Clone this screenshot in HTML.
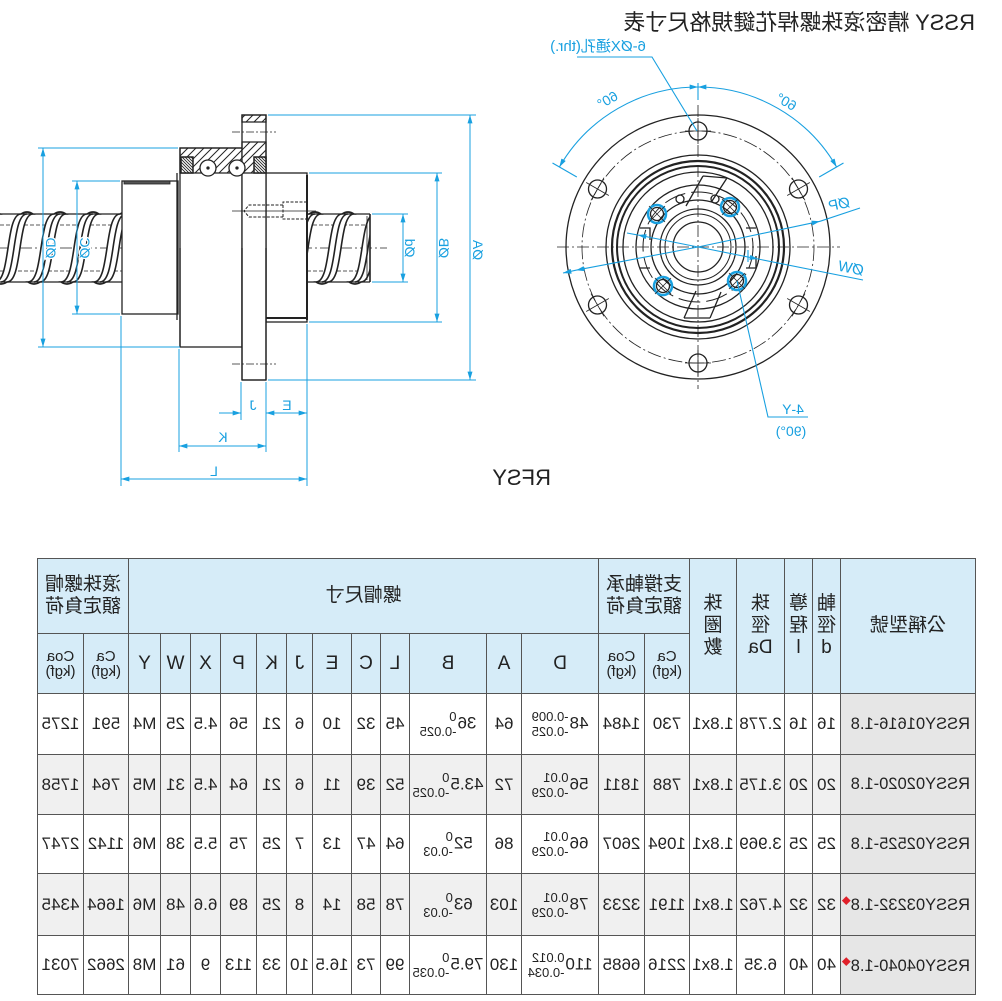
<!DOCTYPE html>
<html><head><meta charset="utf-8">
<style>
html,body{margin:0;padding:0;background:#fff;}
body{width:1002px;height:1001px;position:relative;overflow:hidden;font-family:"Liberation Sans","Noto Sans CJK TC",sans-serif;}
svg{position:absolute;left:0;top:0;}
table{position:absolute;left:37px;top:558px;width:938px;border-collapse:collapse;table-layout:fixed;color:#222;font-family:"Liberation Sans","Noto Sans CJK TC",sans-serif;}
td{border:1.5px solid #555;padding:0;text-align:center;vertical-align:middle;font-size:17px;overflow:hidden;white-space:nowrap;}
.h{background:#d6ecf8;}
.h .f{font-size:19px;line-height:22px;}
.h .u{font-size:15px;line-height:15px;}
.f{transform:scaleX(-1);}
.g td{background:#f0f0f0;}
td.m{background:#e6e6e6 !important;}
td.m .f{text-align:left;padding-left:5px;font-size:16.5px;}
.tl{display:inline-block;vertical-align:middle;font-size:13px;line-height:15px;text-align:left;margin-left:1px;}
.tl span{display:block;}
.dm{color:#e0202a;font-size:9px;vertical-align:6px;}
</style></head><body>
<svg width="1002" height="550" viewBox="0 0 1002 550" xmlns="http://www.w3.org/2000/svg">
<defs>
<marker id="ar" viewBox="0 0 10 6" refX="10" refY="3" markerWidth="9" markerHeight="5" markerUnits="userSpaceOnUse" orient="auto-start-reverse"><path d="M0,0 L10,3 L0,6 z" fill="#18a0e0"/></marker>
<clipPath id="cl"><rect x="0" y="200" width="122" height="100"/></clipPath>
<clipPath id="cr"><rect x="307" y="200" width="63" height="100"/></clipPath>
<clipPath id="hc"><path d="M180,148 L242,148 L242,142 L266,142 L266,173 L180,173 Z M242,115 L266,115 L266,122 L242,122 Z"/></clipPath>
<clipPath id="sc"><path d="M181,157 h12 v16 h-12 Z M254,157 h12 v16 h-12 Z"/></clipPath>
</defs>

<text transform="translate(975,30) scale(-1,1)" font-size="22" fill="#222" font-family="Liberation Sans, Noto Sans CJK TC, sans-serif">RSSY 精密滾珠螺桿花鍵規格尺寸表</text>

<!-- ============ LEFT SIDE VIEW ============ -->
<g stroke="#222" stroke-width="1.3" fill="none">
  <line x1="0" y1="248" x2="387" y2="248" stroke-width="0.8" stroke-dasharray="12 3 2 3"/>
  <line x1="0" y1="225" x2="122" y2="225" stroke-width="0.8" stroke-dasharray="4 2"/>
  <line x1="0" y1="271" x2="122" y2="271" stroke-width="0.8" stroke-dasharray="4 2"/>
  <g clip-path="url(#cl)" fill="#fff" stroke-width="1.6">
    <path d="M-38,282 C-22,282 -28,214 -12,214 Q-6,210 0,214 C-16,214 -10,282 -26,282 Q-32,286 -38,282 Z"/>
    <path d="M-32,282 C-16,282 -22,214 -6,214"/>
    <path d="M-5,282 C11,282 5,214 21,214 Q27,210 33,214 C17,214 23,282 7,282 Q1,286 -5,282 Z"/>
    <path d="M1,282 C17,282 11,214 27,214"/>
    <path d="M28,282 C44,282 38,214 54,214 Q60,210 66,214 C50,214 56,282 40,282 Q34,286 28,282 Z"/>
    <path d="M34,282 C50,282 44,214 60,214"/>
    <path d="M61,282 C77,282 71,214 87,214 Q93,210 99,214 C83,214 89,282 73,282 Q67,286 61,282 Z"/>
    <path d="M67,282 C83,282 77,214 93,214"/>
    <path d="M94,282 C110,282 104,214 120,214 Q126,210 132,214 C116,214 122,282 106,282 Q100,286 94,282 Z"/>
    <path d="M100,282 C116,282 110,214 126,214"/>
  </g>
  <line x1="0" y1="214" x2="122" y2="214"/>
  <line x1="0" y1="282" x2="122" y2="282"/>
  <line x1="307" y1="225" x2="370" y2="225" stroke-width="0.8" stroke-dasharray="4 2"/>
  <line x1="307" y1="271" x2="370" y2="271" stroke-width="0.8" stroke-dasharray="4 2"/>
  <g clip-path="url(#cr)" fill="#fff" stroke-width="1.6">
    <path d="M283,282 C299,282 293,214 309,214 Q315,210 321,214 C305,214 311,282 295,282 Q289,286 283,282 Z"/>
    <path d="M289,282 C305,282 299,214 315,214"/>
    <path d="M316,282 C332,282 326,214 342,214 Q348,210 354,214 C338,214 344,282 328,282 Q322,286 316,282 Z"/>
    <path d="M322,282 C338,282 332,214 348,214"/>
    <path d="M349,282 C365,282 359,214 375,214 Q381,210 387,214 C371,214 377,282 361,282 Q355,286 349,282 Z"/>
    <path d="M355,282 C371,282 365,214 381,214"/>
  </g>
  <line x1="307" y1="214" x2="370" y2="214"/>
  <line x1="307" y1="282" x2="370" y2="282"/>
  <line x1="370" y1="214" x2="370" y2="282" stroke-width="1.6"/>
  <line x1="367" y1="216" x2="367" y2="280" stroke-width="0.8"/>

  <rect x="122" y="181" width="56" height="133" fill="#fff"/>
  <rect x="124" y="181" width="46" height="3" fill="#555" stroke-width="0.8"/>
  <line x1="177" y1="173" x2="177" y2="320"/>
  <rect x="180" y="148" width="62" height="199" fill="#fff"/>
  <rect x="266" y="173" width="41" height="149" fill="#fff"/>
  <line x1="266" y1="318" x2="307" y2="318" stroke-width="2"/>
  <line x1="307" y1="175" x2="307" y2="320" stroke-width="2"/>
  <rect x="242" y="115" width="24" height="265" fill="#fff"/>
  <!-- hatching (explicit lines) -->
  <g clip-path="url(#hc)" stroke-width="1">
    <line x1="120" y1="176" x2="183" y2="113"/><line x1="128" y1="176" x2="191" y2="113"/>
    <line x1="136" y1="176" x2="199" y2="113"/><line x1="144" y1="176" x2="207" y2="113"/>
    <line x1="152" y1="176" x2="215" y2="113"/><line x1="160" y1="176" x2="223" y2="113"/>
    <line x1="168" y1="176" x2="231" y2="113"/><line x1="176" y1="176" x2="239" y2="113"/>
    <line x1="184" y1="176" x2="247" y2="113"/><line x1="192" y1="176" x2="255" y2="113"/>
    <line x1="200" y1="176" x2="263" y2="113"/><line x1="208" y1="176" x2="271" y2="113"/>
    <line x1="216" y1="176" x2="279" y2="113"/><line x1="224" y1="176" x2="287" y2="113"/>
    <line x1="232" y1="176" x2="295" y2="113"/><line x1="240" y1="176" x2="303" y2="113"/>
    <line x1="248" y1="176" x2="311" y2="113"/><line x1="256" y1="176" x2="319" y2="113"/>
    <line x1="264" y1="176" x2="327" y2="113"/>
  </g>
  <path d="M180,148 L242,148 L242,142 L266,142 L266,173 L180,173 Z"/>
  <path d="M242,115 L266,115 L266,122 L242,122 Z"/>
  <!-- seals -->
  <rect x="181" y="157" width="12" height="16" fill="#fff"/>
  <rect x="254" y="157" width="12" height="16" fill="#fff"/>
  <g clip-path="url(#sc)" stroke-width="0.9">
    <line x1="175" y1="150" x2="200" y2="175"/><line x1="178" y1="150" x2="203" y2="175"/>
    <line x1="172" y1="150" x2="197" y2="175"/><line x1="169" y1="150" x2="194" y2="175"/>
    <line x1="166" y1="150" x2="191" y2="175"/><line x1="181" y1="150" x2="206" y2="175"/>
    <line x1="184" y1="150" x2="209" y2="175"/><line x1="163" y1="150" x2="188" y2="175"/>
    <line x1="248" y1="150" x2="273" y2="175"/><line x1="251" y1="150" x2="276" y2="175"/>
    <line x1="245" y1="150" x2="270" y2="175"/><line x1="242" y1="150" x2="267" y2="175"/>
    <line x1="239" y1="150" x2="264" y2="175"/><line x1="254" y1="150" x2="279" y2="175"/>
    <line x1="257" y1="150" x2="282" y2="175"/><line x1="236" y1="150" x2="261" y2="175"/>
  </g>
  <rect x="181" y="157" width="12" height="16"/>
  <rect x="254" y="157" width="12" height="16"/>
  <circle cx="208" cy="168" r="8" fill="#fff"/>
  <circle cx="237" cy="168" r="8" fill="#fff"/>
  <circle cx="208" cy="168" r="1" fill="#333"/>
  <circle cx="237" cy="168" r="1" fill="#333"/>
  <line x1="242" y1="248" x2="242" y2="380"/>
  <line x1="266" y1="248" x2="266" y2="380"/>
  <line x1="242" y1="380" x2="266" y2="380"/>
  <line x1="180" y1="248" x2="180" y2="347"/>
  <line x1="232" y1="132" x2="276" y2="132" stroke-width="0.8" stroke-dasharray="8 2 2 2"/>
  <line x1="232" y1="364" x2="276" y2="364" stroke-width="0.8" stroke-dasharray="8 2 2 2"/>
  <path d="M307,202 L283,202 L283,219 L307,219" stroke-width="1" stroke-dasharray="3 1.5"/>
  <path d="M283,205 L249,205 L244,211 L249,217 L283,217" stroke-width="1" stroke-dasharray="3 1.5"/>
  <line x1="232" y1="211" x2="316" y2="211" stroke-width="0.7"/>
</g>

<g stroke="#18a0e0" stroke-width="1" fill="none">
  <line x1="268" y1="115" x2="476" y2="115"/>
  <line x1="268" y1="380" x2="476" y2="380"/>
  <line x1="470" y1="115" x2="470" y2="380" marker-start="url(#ar)" marker-end="url(#ar)"/>
  <line x1="309" y1="173" x2="442" y2="173"/>
  <line x1="309" y1="322" x2="442" y2="322"/>
  <line x1="437" y1="173" x2="437" y2="322" marker-start="url(#ar)" marker-end="url(#ar)"/>
  <line x1="372" y1="214" x2="408" y2="214"/>
  <line x1="372" y1="282" x2="408" y2="282"/>
  <line x1="403" y1="214" x2="403" y2="282" marker-start="url(#ar)" marker-end="url(#ar)"/>
  <line x1="38" y1="148" x2="178" y2="148"/>
  <line x1="38" y1="347" x2="180" y2="347"/>
  <line x1="43" y1="148" x2="43" y2="347" marker-start="url(#ar)" marker-end="url(#ar)"/>
  <line x1="72" y1="181" x2="120" y2="181"/>
  <line x1="72" y1="314" x2="120" y2="314"/>
  <line x1="77" y1="181" x2="77" y2="314" marker-start="url(#ar)" marker-end="url(#ar)"/>
  <line x1="121" y1="316" x2="121" y2="486"/>
  <line x1="179" y1="349" x2="179" y2="452"/>
  <line x1="241" y1="382" x2="241" y2="420"/>
  <line x1="266" y1="382" x2="266" y2="452"/>
  <line x1="307" y1="324" x2="307" y2="486"/>
  <line x1="266" y1="413" x2="307" y2="413" marker-start="url(#ar)" marker-end="url(#ar)"/>
  <line x1="219" y1="413" x2="241" y2="413" marker-end="url(#ar)"/>
  <line x1="179" y1="446" x2="266" y2="446" marker-start="url(#ar)" marker-end="url(#ar)"/>
  <line x1="121" y1="479" x2="307" y2="479" marker-start="url(#ar)" marker-end="url(#ar)"/>
</g>
<g fill="#18a0e0" font-size="14" font-family="Liberation Sans, Noto Sans CJK TC, sans-serif" text-anchor="middle">
  <text transform="translate(46,248) scale(-1,1) rotate(-90)" stroke="#fff" stroke-width="2.5" paint-order="stroke">ØD</text>
  <text transform="translate(80,248) scale(-1,1) rotate(-90)" stroke="#fff" stroke-width="2.5" paint-order="stroke">ØC</text>
  <text transform="translate(405,248) scale(-1,1) rotate(-90)">Ød</text>
  <text transform="translate(439,248) scale(-1,1) rotate(-90)">ØB</text>
  <text transform="translate(473,250) scale(-1,1) rotate(-90)">ØA</text>
  <text transform="translate(287,410) scale(-1,1)">E</text>
  <text transform="translate(253,410) scale(-1,1)">J</text>
  <text transform="translate(223,442) scale(-1,1)">K</text>
  <text transform="translate(214,476) scale(-1,1)">L</text>
</g>
<text transform="translate(551,485) scale(-1,1)" font-size="22" fill="#222" font-family="Liberation Sans, sans-serif">RFSY</text>

<!-- ============ RIGHT FRONT VIEW ============ -->
<g stroke="#222" fill="none" stroke-width="1.3">
  <line x1="557" y1="247" x2="840" y2="247" stroke-width="0.8" stroke-dasharray="12 3 2 3"/>
  <line x1="698" y1="105" x2="698" y2="389" stroke-width="0.8" stroke-dasharray="12 3 2 3"/>
  <circle cx="698" cy="247" r="132"/>
  <circle cx="698" cy="247" r="116" stroke-width="0.8" stroke-dasharray="14 3 2 3"/>
  <circle cx="698" cy="131" r="9"/>
  <circle cx="798.5" cy="189" r="9"/>
  <circle cx="597.5" cy="189" r="9"/>
  <circle cx="597.5" cy="305" r="9"/>
  <circle cx="698" cy="363" r="9"/>
  <circle cx="798.5" cy="305" r="9"/>
  <g stroke-width="0.8">
    <line x1="698" y1="118" x2="698" y2="144"/><line x1="685" y1="131" x2="711" y2="131"/>
    <line x1="787.2" y1="195.5" x2="809.8" y2="182.5"/><line x1="792" y1="177.7" x2="805" y2="200.3"/>
    <line x1="608.8" y1="195.5" x2="586.2" y2="182.5"/><line x1="604" y1="177.7" x2="591" y2="200.3"/>
    <line x1="608.8" y1="298.5" x2="586.2" y2="311.5"/><line x1="591" y1="293.7" x2="604" y2="316.3"/>
    <line x1="698" y1="350" x2="698" y2="376"/><line x1="685" y1="363" x2="711" y2="363"/>
    <line x1="787.2" y1="298.5" x2="809.8" y2="311.5"/><line x1="805" y1="293.7" x2="792" y2="316.3"/>
  </g>
  <circle cx="698" cy="247" r="92"/>
  <circle cx="698" cy="247" r="86" stroke-width="2.2"/>
  <circle cx="698" cy="247" r="81" stroke-width="2"/>
  <circle cx="698" cy="247" r="75"/>
  <circle cx="698" cy="247" r="62"/>
  <circle cx="698" cy="247" r="55" stroke-width="1" stroke-dasharray="22 6"/>
  <circle cx="698" cy="247" r="47"/>
  <circle cx="698" cy="247" r="38"/>
  <circle cx="698" cy="247" r="33" stroke-width="1"/>
  <circle cx="698" cy="247" r="25"/>
  <path d="M686,206 L703,176 M712,201 L727,178 M703,176 L727,178"/>
  <path d="M684,318 L696,291 M710,318 L721,292 M684,318 L710,318"/>
  <path d="M640,228 L650,228 L650,240 M746,228 L756,228 M640,268 L650,268 M746,268 L756,268 L756,256"/>
  <circle cx="680" cy="199" r="4"/>
  <circle cx="715" cy="199" r="4"/>
  <g>
    <circle cx="657" cy="214" r="9" stroke="#18a0e0" stroke-width="2.5"/>
    <circle cx="657" cy="214" r="6.5"/>
    <line x1="649" y1="206" x2="665" y2="222" stroke-width="0.8"/><line x1="665" y1="206" x2="649" y2="222" stroke-width="0.8"/>
    <circle cx="730" cy="207" r="9" stroke="#18a0e0" stroke-width="2.5"/>
    <circle cx="730" cy="207" r="6.5"/>
    <line x1="722" y1="199" x2="738" y2="215" stroke-width="0.8"/><line x1="738" y1="199" x2="722" y2="215" stroke-width="0.8"/>
    <circle cx="663" cy="286" r="9" stroke="#18a0e0" stroke-width="2.5"/>
    <circle cx="663" cy="286" r="6.5"/>
    <line x1="655" y1="278" x2="671" y2="294" stroke-width="0.8"/><line x1="671" y1="278" x2="655" y2="294" stroke-width="0.8"/>
    <circle cx="737" cy="281" r="9" stroke="#18a0e0" stroke-width="2.5"/>
    <circle cx="737" cy="281" r="6.5"/>
    <line x1="729" y1="273" x2="745" y2="289" stroke-width="0.8"/><line x1="745" y1="273" x2="729" y2="289" stroke-width="0.8"/>
  </g>
</g>

<g stroke="#18a0e0" stroke-width="1.1" fill="none">
  <path d="M559.4,167 A160,160 0 0 1 698,87" marker-start="url(#ar)" marker-end="url(#ar)"/>
  <path d="M698,87 A160,160 0 0 1 836.6,167" marker-start="url(#ar)" marker-end="url(#ar)"/>
  <line x1="576.8" y1="177" x2="552.5" y2="163"/>
  <line x1="819.2" y1="177" x2="843.5" y2="163"/>
  <line x1="698" y1="83" x2="698" y2="100"/>
  <polyline points="577,57 652,57 697,131"/>
  <polyline points="737,281 768,417 808,417"/>
  <line x1="576" y1="270.2" x2="563" y2="273" marker-end="url(#ar)"/>
  <line x1="698" y1="247" x2="576" y2="270.2" marker-end="url(#ar)"/>
  <line x1="698" y1="247" x2="820" y2="221.3" marker-end="url(#ar)"/>
  <line x1="820" y1="221.3" x2="860" y2="208"/>
  <line x1="698" y1="247" x2="638" y2="235" marker-end="url(#ar)"/>
  <line x1="638" y1="235" x2="627" y2="233"/>
  <line x1="698" y1="247" x2="758" y2="259" marker-end="url(#ar)"/>
  <line x1="758" y1="259" x2="863" y2="280"/>
  <line x1="748" y1="250" x2="748" y2="262"/>
</g>
<g fill="#18a0e0" font-family="Liberation Sans, Noto Sans CJK TC, sans-serif" text-anchor="middle">
  <text transform="translate(598,51) scale(-1,1)" font-size="15">6-ØX通孔(thr.)</text>
  <text transform="translate(610,104) scale(-1,1) rotate(30)" font-size="14">60°</text>
  <text transform="translate(784,106) scale(-1,1) rotate(-30)" font-size="14">60°</text>
  <text transform="translate(840,209) scale(-1,1) rotate(12.3)" font-size="15">ØP</text>
  <text transform="translate(850,273) scale(-1,1) rotate(-11.3)" font-size="15">ØW</text>
  <text transform="translate(793,414) scale(-1,1)" font-size="14">4-Y</text>
  <text transform="translate(791,436) scale(-1,1)" font-size="14">(90°)</text>
</g>
</svg>

<table>
<colgroup>
<col style="width:46px"><col style="width:45px"><col style="width:32px"><col style="width:30px"><col style="width:30px"><col style="width:36px"><col style="width:30px"><col style="width:26px"><col style="width:39px"><col style="width:29px"><col style="width:29px"><col style="width:77px"><col style="width:35px"><col style="width:77px"><col style="width:46px"><col style="width:45px"><col style="width:47px"><col style="width:48px"><col style="width:28px"><col style="width:28px"><col style="width:135px">
</colgroup>
<tr style="height:75px">
<td colspan="2" class="h"><div class="f">滾珠螺帽<br>額定負荷</div></td>
<td colspan="12" class="h"><div class="f">螺帽尺寸</div></td>
<td colspan="2" class="h"><div class="f">支撐軸承<br>額定負荷</div></td>
<td rowspan="2" class="h"><div class="f">珠<br>圈<br>數</div></td>
<td rowspan="2" class="h"><div class="f">珠<br>徑<br>Da</div></td>
<td rowspan="2" class="h"><div class="f">導<br>程<br>l</div></td>
<td rowspan="2" class="h"><div class="f">軸<br>徑<br>d</div></td>
<td rowspan="2" class="h"><div class="f">公稱型號</div></td>
</tr>
<tr style="height:60px">
<td class="h"><div class="f u">Coa<br>(kgf)</div></td>
<td class="h"><div class="f u">Ca<br>(kgf)</div></td>
<td class="h"><div class="f">Y</div></td>
<td class="h"><div class="f">W</div></td>
<td class="h"><div class="f">X</div></td>
<td class="h"><div class="f">P</div></td>
<td class="h"><div class="f">K</div></td>
<td class="h"><div class="f">J</div></td>
<td class="h"><div class="f">E</div></td>
<td class="h"><div class="f">C</div></td>
<td class="h"><div class="f">L</div></td>
<td class="h"><div class="f">B</div></td>
<td class="h"><div class="f">A</div></td>
<td class="h"><div class="f">D</div></td>
<td class="h"><div class="f u">Coa<br>(kgf)</div></td>
<td class="h"><div class="f u">Ca<br>(kgf)</div></td>
</tr>
<tr style="height:61px">
<td><div class="f">1275</div></td><td><div class="f">591</div></td><td><div class="f">M4</div></td><td><div class="f">25</div></td><td><div class="f">4.5</div></td><td><div class="f">56</div></td><td><div class="f">21</div></td><td><div class="f">6</div></td><td><div class="f">10</div></td><td><div class="f">32</div></td><td><div class="f">45</div></td>
<td><div class="f">36<span class="tl"><span>0</span><span>-0.025</span></span></div></td>
<td><div class="f">64</div></td>
<td><div class="f">48<span class="tl"><span>-0.009</span><span>-0.025</span></span></div></td>
<td><div class="f">1484</div></td><td><div class="f">730</div></td><td><div class="f">1.8x1</div></td><td><div class="f">2.778</div></td><td><div class="f">16</div></td><td><div class="f">16</div></td>
<td class="m"><div class="f">RSSY01616-1.8</div></td>
</tr>
<tr style="height:60px" class="g">
<td><div class="f">1758</div></td><td><div class="f">764</div></td><td><div class="f">M5</div></td><td><div class="f">31</div></td><td><div class="f">4.5</div></td><td><div class="f">64</div></td><td><div class="f">21</div></td><td><div class="f">6</div></td><td><div class="f">11</div></td><td><div class="f">39</div></td><td><div class="f">52</div></td>
<td><div class="f">43.5<span class="tl"><span>0</span><span>-0.025</span></span></div></td>
<td><div class="f">72</div></td>
<td><div class="f">56<span class="tl"><span>0.01</span><span>-0.029</span></span></div></td>
<td><div class="f">1811</div></td><td><div class="f">788</div></td><td><div class="f">1.8x1</div></td><td><div class="f">3.175</div></td><td><div class="f">20</div></td><td><div class="f">20</div></td>
<td class="m"><div class="f">RSSY02020-1.8</div></td>
</tr>
<tr style="height:59px">
<td><div class="f">2747</div></td><td><div class="f">1142</div></td><td><div class="f">M6</div></td><td><div class="f">38</div></td><td><div class="f">5.5</div></td><td><div class="f">75</div></td><td><div class="f">25</div></td><td><div class="f">7</div></td><td><div class="f">13</div></td><td><div class="f">47</div></td><td><div class="f">64</div></td>
<td><div class="f">52<span class="tl"><span>0</span><span>-0.03</span></span></div></td>
<td><div class="f">86</div></td>
<td><div class="f">66<span class="tl"><span>0.01</span><span>-0.029</span></span></div></td>
<td><div class="f">2607</div></td><td><div class="f">1094</div></td><td><div class="f">1.8x1</div></td><td><div class="f">3.969</div></td><td><div class="f">25</div></td><td><div class="f">25</div></td>
<td class="m"><div class="f">RSSY02525-1.8</div></td>
</tr>
<tr style="height:62px" class="g">
<td><div class="f">4345</div></td><td><div class="f">1664</div></td><td><div class="f">M6</div></td><td><div class="f">48</div></td><td><div class="f">6.6</div></td><td><div class="f">89</div></td><td><div class="f">25</div></td><td><div class="f">8</div></td><td><div class="f">14</div></td><td><div class="f">58</div></td><td><div class="f">78</div></td>
<td><div class="f">63<span class="tl"><span>0</span><span>-0.03</span></span></div></td>
<td><div class="f">103</div></td>
<td><div class="f">78<span class="tl"><span>0.01</span><span>-0.029</span></span></div></td>
<td><div class="f">3233</div></td><td><div class="f">1191</div></td><td><div class="f">1.8x1</div></td><td><div class="f">4.762</div></td><td><div class="f">32</div></td><td><div class="f">32</div></td>
<td class="m"><div class="f">RSSY03232-1.8<span class="dm">◆</span></div></td>
</tr>
<tr style="height:59px">
<td><div class="f">7031</div></td><td><div class="f">2662</div></td><td><div class="f">M8</div></td><td><div class="f">61</div></td><td><div class="f">9</div></td><td><div class="f">113</div></td><td><div class="f">33</div></td><td><div class="f">10</div></td><td><div class="f">16.5</div></td><td><div class="f">73</div></td><td><div class="f">99</div></td>
<td><div class="f">79.5<span class="tl"><span>0</span><span>-0.035</span></span></div></td>
<td><div class="f">130</div></td>
<td><div class="f">110<span class="tl"><span>0.012</span><span>-0.034</span></span></div></td>
<td><div class="f">6685</div></td><td><div class="f">2216</div></td><td><div class="f">1.8x1</div></td><td><div class="f">6.35</div></td><td><div class="f">40</div></td><td><div class="f">40</div></td>
<td class="m"><div class="f">RSSY04040-1.8<span class="dm">◆</span></div></td>
</tr>
</table>
</body></html>
